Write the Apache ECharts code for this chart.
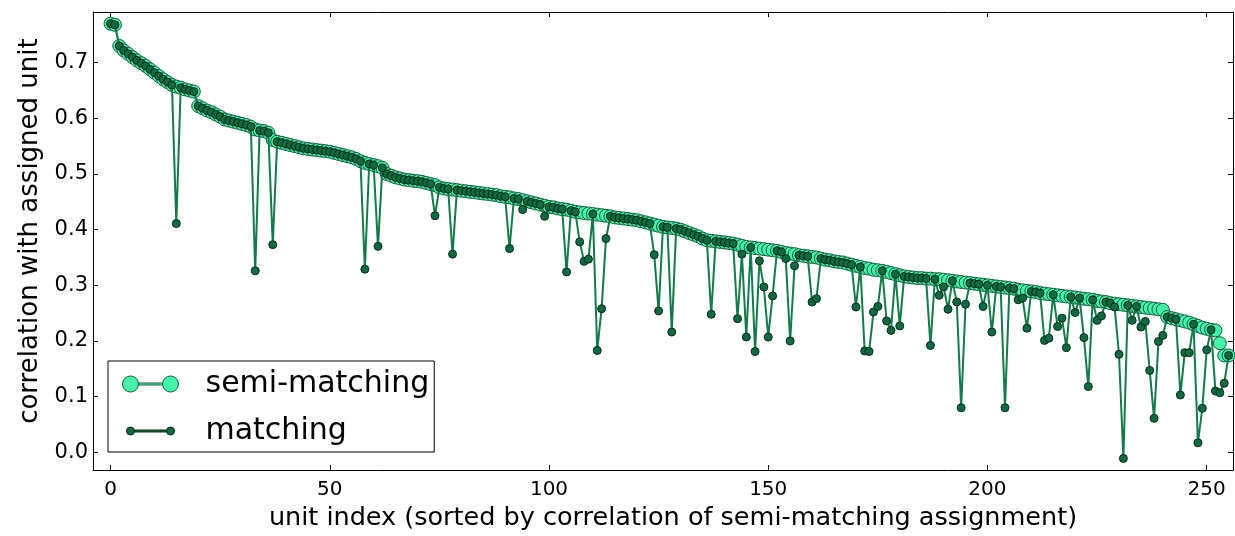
<!DOCTYPE html>
<html>
<head>
<meta charset="utf-8">
<script src="https://cdn.jsdelivr.net/npm/echarts@6/dist/echarts.min.js"></script>
<style>
html,body{margin:0;padding:0;background:#fff;}
#chart{width:1235px;height:536px;}
</style>
</head>
<body>
<div id="chart"></div>
<script>
// semi-matching correlation for unit index 0..255
const semiMatching = [
0.770,0.768,0.730,0.722,0.716,0.710,0.704,0.699,0.694,0.688,
0.682,0.676,0.670,0.665,0.660,0.657,0.655,0.652,0.650,0.648,
0.622,0.618,0.614,0.611,0.607,0.603,0.598,0.596,0.594,0.592,
0.590,0.588,0.585,0.580,0.578,0.577,0.574,0.561,0.558,0.556,
0.554,0.552,0.550,0.548,0.546,0.545,0.544,0.543,0.542,0.541,
0.540,0.538,0.536,0.534,0.532,0.530,0.527,0.523,0.520,0.518,
0.516,0.514,0.511,0.500,0.497,0.494,0.492,0.490,0.489,0.488,
0.487,0.486,0.484,0.482,0.480,0.476,0.474,0.473,0.472,0.471,
0.470,0.469,0.468,0.467,0.466,0.465,0.464,0.463,0.462,0.460,
0.459,0.458,0.456,0.455,0.453,0.451,0.449,0.447,0.445,0.443,
0.441,0.440,0.438,0.437,0.436,0.434,0.432,0.431,0.430,0.429,
0.428,0.427,0.426,0.425,0.424,0.422,0.421,0.420,0.419,0.418,
0.417,0.415,0.413,0.411,0.409,0.407,0.405,0.404,0.403,0.402,
0.400,0.397,0.394,0.391,0.388,0.384,0.381,0.380,0.379,0.378,
0.377,0.376,0.375,0.373,0.371,0.369,0.368,0.367,0.366,0.365,
0.364,0.363,0.362,0.360,0.358,0.357,0.356,0.354,0.353,0.352,
0.351,0.350,0.348,0.346,0.345,0.343,0.342,0.341,0.339,0.337,
0.335,0.333,0.331,0.330,0.328,0.327,0.326,0.324,0.322,0.320,
0.318,0.316,0.315,0.314,0.313,0.313,0.312,0.312,0.311,0.311,
0.310,0.309,0.308,0.307,0.306,0.305,0.304,0.303,0.302,0.301,
0.300,0.299,0.298,0.297,0.296,0.295,0.294,0.292,0.291,0.290,
0.289,0.288,0.286,0.285,0.284,0.283,0.282,0.281,0.280,0.279,
0.278,0.277,0.276,0.275,0.274,0.272,0.271,0.270,0.268,0.267,
0.266,0.265,0.264,0.263,0.262,0.261,0.260,0.259,0.258,0.257,
0.256,0.243,0.241,0.239,0.237,0.235,0.233,0.230,0.227,0.224,
0.222,0.220,0.219,0.196,0.174,0.174
];

// units where the matching assignment differs (index, correlation)
const dipIndex = [15,33,37,58,61,74,78,91,94,99,
104,107,108,109,111,112,113,124,125,128,
137,143,144,145,147,148,149,150,151,154,
155,156,160,161,170,172,173,174,175,177,
178,180,187,189,190,191,193,194,195,199,
201,204,207,208,209,213,214,216,217,218,
220,222,223,225,226,229,230,231,233,235,
236,237,238,239,240,244,245,246,248,249,
250,252,253,254];
const dipValue = [0.411,0.326,0.373,0.329,0.370,0.425,0.356,0.366,0.436,0.424,
0.324,0.378,0.343,0.347,0.183,0.258,0.384,0.355,0.254,0.216,
0.248,0.240,0.356,0.207,0.181,0.344,0.297,0.207,0.281,0.348,
0.200,0.335,0.270,0.276,0.261,0.182,0.181,0.252,0.262,0.236,
0.219,0.227,0.192,0.282,0.297,0.257,0.270,0.080,0.266,0.262,
0.216,0.080,0.274,0.277,0.223,0.201,0.205,0.226,0.241,0.188,
0.251,0.206,0.118,0.237,0.245,0.261,0.176,-0.011,0.237,0.225,
0.235,0.147,0.061,0.199,0.210,0.103,0.179,0.179,0.017,0.079,
0.184,0.110,0.107,0.124];

const xTicks = [0,50,100,150,200,250];
const yTicks = [0.0,0.1,0.2,0.3,0.4,0.5,0.6,0.7];

const matching = semiMatching.slice();
dipIndex.forEach((k, j) => { matching[k] = dipValue[j]; });

const semiData = semiMatching.map((v, i) => [i, v]);
const matchData = matching.map((v, i) => [i, v]);

const FONT = 'DejaVu Sans';
const semiFill = '#44f2ab', semiLine = '#3ee6a0', semiEdge = '#155c3a';
const matchFill = '#0f6a3f', matchLine = '#137a4a', matchEdge = '#082b19';

const semiIcon = 'path://M0,0M78,20M0,10A8,8 0 1,0 16,10A8,8 0 1,0 0,10ZM40,10A8,8 0 1,0 56,10A8,8 0 1,0 40,10ZM16,9L40,9L40,11L16,11Z';
const matchIcon = 'path://M0,0M78,20M4,10A4,4 0 1,0 12,10A4,4 0 1,0 4,10ZM44,10A4,4 0 1,0 52,10A4,4 0 1,0 44,10ZM12,9L44,9L44,11L12,11Z';

const chart = echarts.init(document.getElementById('chart'), null, {renderer: 'canvas'});
const baseX = {
  type: 'value', min: -4, max: 256,
  axisLine: {show: true, onZero: false, lineStyle: {color: '#000', width: 1}},
  axisTick: {show: true, inside: true, length: 5, customValues: xTicks, lineStyle: {color: '#000'}},
  splitLine: {show: false}
};
const baseY = {
  type: 'value', min: -0.032, max: 0.791,
  axisLine: {show: true, onZero: false, lineStyle: {color: '#000', width: 1}},
  axisTick: {show: true, inside: true, length: 5, customValues: yTicks, lineStyle: {color: '#000'}},
  splitLine: {show: false}
};
chart.setOption({
  animation: false,
  backgroundColor: '#fff',
  grid: {left: 93, right: 2, top: 12, bottom: 64, containLabel: false},
  xAxis: [
    Object.assign({}, baseX, {
      position: 'bottom',
      axisLabel: {show: true, customValues: xTicks, fontFamily: FONT, fontSize: 20, color: '#000', margin: 10},
      name: 'unit index (sorted by correlation of semi-matching assignment)',
      nameLocation: 'middle', nameGap: 34,
      nameTextStyle: {fontFamily: FONT, fontSize: 25.5, color: '#000', padding: [0, 0, 0, 20]}
    }),
    Object.assign({}, baseX, {position: 'top', axisLabel: {show: false}})
  ],
  yAxis: [
    Object.assign({}, baseY, {
      position: 'left',
      axisLabel: {show: true, customValues: yTicks, fontFamily: FONT, fontSize: 21, color: '#000', margin: 5,
        formatter: v => v.toFixed(1)},
      name: 'correlation with assigned unit',
      nameLocation: 'middle', nameGap: 48, nameRotate: 90,
      nameTextStyle: {fontFamily: FONT, fontSize: 26, color: '#000', padding: [0, 0, 0, 20]}
    }),
    Object.assign({}, baseY, {position: 'right', axisLabel: {show: false}})
  ],
  legend: {
    show: true, orient: 'vertical', left: 108, top: 361,
    padding: [8, 5, 6, 14], itemGap: 17, itemWidth: 78, itemHeight: 20,
    backgroundColor: '#fff', borderColor: '#000', borderWidth: 1, borderRadius: 0,
    textStyle: {fontFamily: FONT, fontSize: 30, color: '#000', padding: [0,0,0,0]},
    data: [
      {name: 'semi-matching', icon: semiIcon, itemStyle: {color: semiFill, borderColor: semiEdge, borderWidth: 1}},
      {name: 'matching', icon: matchIcon, itemStyle: {color: matchFill, borderColor: matchEdge, borderWidth: 1}}
    ]
  },
  series: [
    {
      name: 'semi-matching', type: 'line', xAxisIndex: 0, yAxisIndex: 0,
      data: semiData, symbol: 'circle', symbolSize: 13, showSymbol: true, showAllSymbol: true,
      lineStyle: {color: semiLine, width: 2},
      itemStyle: {color: semiFill, borderColor: semiEdge, borderWidth: 1},
      emphasis: {disabled: true}, z: 2
    },
    {
      name: 'matching', type: 'line', xAxisIndex: 0, yAxisIndex: 0,
      data: matchData, symbol: 'circle', symbolSize: 8, showSymbol: true, showAllSymbol: true,
      lineStyle: {color: matchLine, width: 2},
      itemStyle: {color: matchFill, borderColor: matchEdge, borderWidth: 1},
      emphasis: {disabled: true}, z: 3
    }
  ]
});
</script>
</body>
</html>
